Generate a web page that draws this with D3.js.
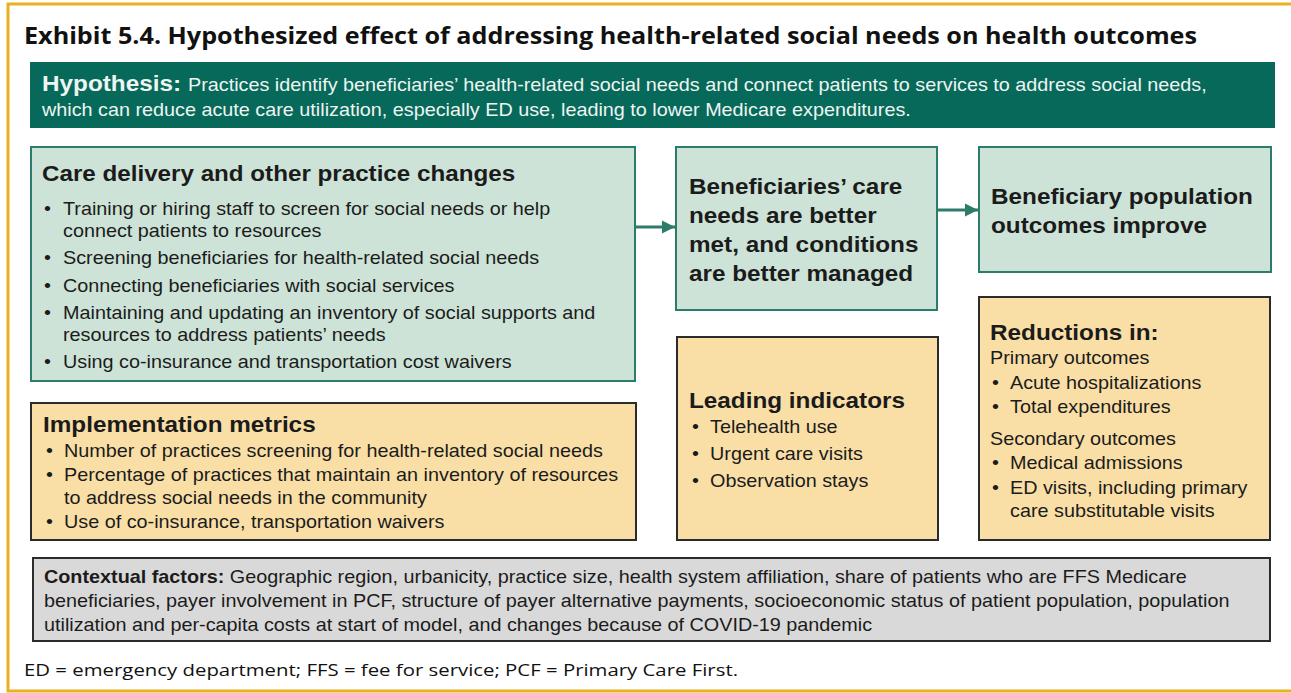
<!DOCTYPE html>
<html>
<head>
<meta charset="utf-8">
<style>
  html, body { margin: 0; padding: 0; background: #fff; }
  svg { display: block; }
</style>
</head>
<body>
<svg width="1291" height="693"></svg>
<script src="https://d3js.org/d3.v7.min.js"></script>
<script>

    // ---- text content ----
    var title = "Exhibit 5.4. Hypothesized effect of addressing health-related social needs on health outcomes";
    var hypothesisLead = "Hypothesis:";
    var hypothesisLines = [
        "Practices identify beneficiaries\u2019 health-related social needs and connect patients to services to address social needs,",
        "which can reduce acute care utilization, especially ED use, leading to lower Medicare expenditures."
    ];
    var careHeading = "Care delivery and other practice changes";
    var careItems = [
        ["Training or hiring staff to screen for social needs or help", "connect patients to resources"],
        ["Screening beneficiaries for health-related social needs"],
        ["Connecting beneficiaries with social services"],
        ["Maintaining and updating an inventory of social supports and", "resources to address patients\u2019 needs"],
        ["Using co-insurance and transportation cost waivers"]
    ];
    var needsLines = ["Beneficiaries\u2019 care", "needs are better", "met, and conditions", "are better managed"];
    var outcomeLines = ["Beneficiary population", "outcomes improve"];
    var implHeading = "Implementation metrics";
    var implItems = [
        ["Number of practices screening for health-related social needs"],
        ["Percentage of practices that maintain an inventory of resources", "to address social needs in the community"],
        ["Use of co-insurance, transportation waivers"]
    ];
    var leadingHeading = "Leading indicators";
    var leadingItems = [["Telehealth use"], ["Urgent care visits"], ["Observation stays"]];
    var reductionsHeading = "Reductions in:";
    var primaryLabel = "Primary outcomes";
    var primaryItems = [["Acute hospitalizations"], ["Total expenditures"]];
    var secondaryLabel = "Secondary outcomes";
    var secondaryItems = [["Medical admissions"], ["ED visits, including primary", "care substitutable visits"]];
    var contextLead = "Contextual factors:";
    var contextLines = [
        " Geographic region, urbanicity, practice size, health system affiliation, share of patients who are FFS Medicare",
        "beneficiaries, payer involvement in PCF, structure of payer alternative payments, socioeconomic status of patient population, population",
        "utilization and per-capita costs at start of model, and changes because of COVID-19 pandemic"
    ];
    var footnote = "ED = emergency department; FFS = fee for service; PCF = Primary Care First.";

    // ---- styles ----
    var teal = "#07695a", tealLine = "#2d7c6b", greenFill = "#cde3d7",
        tanFill = "#f9dfa6", greyFill = "#d9d9d9", darkLine = "#2b2b2b",
        gold = "#e9b120", ink = "#1b1b1b", pale = "#eef5f2";
    var sans = "'Liberation Sans', Arial, sans-serif";
    var uiSans = "'Open Sans', 'Noto Sans', sans-serif";

    // the source art is a little wider than plain Arial, so text gets a small x-stretch
    var BODY = 18, BODY_SX = 1.1, HEAD = 22.5, HEAD_SX = 1.08;

    var svg = d3.select("svg");

    svg.append("defs").append("marker")
        .attr("id", "arrow")
        .attr("viewBox", "0 0 10 10")
        .attr("refX", 10).attr("refY", 5)
        .attr("markerWidth", 4.5).attr("markerHeight", 4.5)
        .attr("orient", "auto")
        .append("path")
        .attr("d", "M0,0 L10,5 L0,10 z")
        .attr("fill", tealLine);

    // gold frame
    svg.append("path")
        .attr("d", d3.line()([[1291, 4], [8, 4], [8, 691], [1291, 691]]))
        .attr("fill", "none").attr("stroke", gold).attr("stroke-width", 3);

    // title
    svg.append("text")
        .attr("x", 24).attr("y", 44)
        .attr("font-family", uiSans).attr("font-weight", 700).attr("font-size", 24)
        .attr("textLength", 1173).attr("lengthAdjust", "spacingAndGlyphs")
        .attr("fill", "#111")
        .text(title);

    // boxes
    function box(x, y, w, h, fill, stroke, sw) {
        svg.append("rect")
            .attr("x", x).attr("y", y).attr("width", w).attr("height", h)
            .attr("fill", fill).attr("stroke", stroke).attr("stroke-width", sw);
    }

    box(30, 62, 1245, 66, teal, "none", 0);
    box(31, 147, 604, 234, greenFill, tealLine, 2);
    box(676, 147, 261, 163, greenFill, tealLine, 2);
    box(979, 147, 292, 125, greenFill, tealLine, 2);
    box(979, 297, 291, 243, tanFill, darkLine, 2);
    box(677, 337, 261, 203, tanFill, darkLine, 2);
    box(31, 403, 605, 137, tanFill, darkLine, 2);
    box(33, 558, 1237, 83, greyFill, darkLine, 2);

    // arrows
    var arrowLine = d3.line();
    [[[636, 227], [675, 227]], [[938, 210], [978, 210]]].forEach(function(seg) {
        svg.append("path").attr("d", arrowLine(seg))
            .attr("stroke", tealLine).attr("stroke-width", 3).attr("fill", "none")
            .attr("marker-end", "url(#arrow)");
    });

    function label(x, y, str, size, weight, color, sx) {
        return svg.append("text")
            .attr("transform", "translate(" + x + "," + y + ") scale(" + (sx || BODY_SX) + ",1)")
            .attr("font-family", sans)
            .attr("font-size", size)
            .attr("font-weight", weight || 400)
            .attr("fill", color || ink)
            .text(str);
    }

    function heading(x, y, str) { return label(x, y, str, HEAD, 700, ink, HEAD_SX); }

    // bullets: items is array of arrays of lines; ys gives the baseline of each line
    function bullets(bx, tx, ys, items) {
        var k = 0;
        items.forEach(function(item) {
            item.forEach(function(s, j) {
                if (j === 0) label(bx, ys[k], "\u2022", BODY);
                label(tx, ys[k], s, BODY);
                k++;
            });
        });
    }

    // hypothesis
    label(42, 91, hypothesisLead, 22.3, 700, pale, 1.09);
    label(188, 91, hypothesisLines[0], BODY, 400, pale);
    label(42, 116, hypothesisLines[1], BODY, 400, pale);

    // care delivery
    label(42, 181, careHeading, 22, 700, ink, 1.1);
    bullets(44, 63, [215, 237, 264, 292, 319, 341, 368], careItems);

    // needs / outcomes
    needsLines.forEach(function(s, i) { heading(689, 194 + i * 29, s); });
    outcomeLines.forEach(function(s, i) { heading(991, 204 + i * 29, s); });

    // implementation metrics
    heading(43, 432, implHeading);
    bullets(46, 64, [457, 481, 504, 528], implItems);

    // leading indicators
    heading(689, 408, leadingHeading);
    bullets(692, 710, [433, 460, 487], leadingItems);

    // reductions
    heading(990, 340, reductionsHeading);
    label(990, 364, primaryLabel, BODY);
    bullets(992, 1010, [389, 413], primaryItems);
    label(990, 445, secondaryLabel, BODY);
    bullets(992, 1010, [469, 494, 517], secondaryItems);

    // contextual factors
    var ctx = svg.append("text")
        .attr("transform", "translate(44,583) scale(" + BODY_SX + ",1)")
        .attr("font-family", sans).attr("font-size", BODY).attr("fill", ink);
    ctx.append("tspan").attr("font-weight", 700).text(contextLead);
    ctx.append("tspan").text(contextLines[0]);
    label(44, 607, contextLines[1], BODY);
    label(44, 631, contextLines[2], BODY);

    // footnote
    svg.append("text")
        .attr("x", 24).attr("y", 676)
        .attr("font-family", uiSans).attr("font-size", 17).attr("fill", "#111")
        .attr("textLength", 714).attr("lengthAdjust", "spacingAndGlyphs")
        .text(footnote);

</script>
</body>
</html>
